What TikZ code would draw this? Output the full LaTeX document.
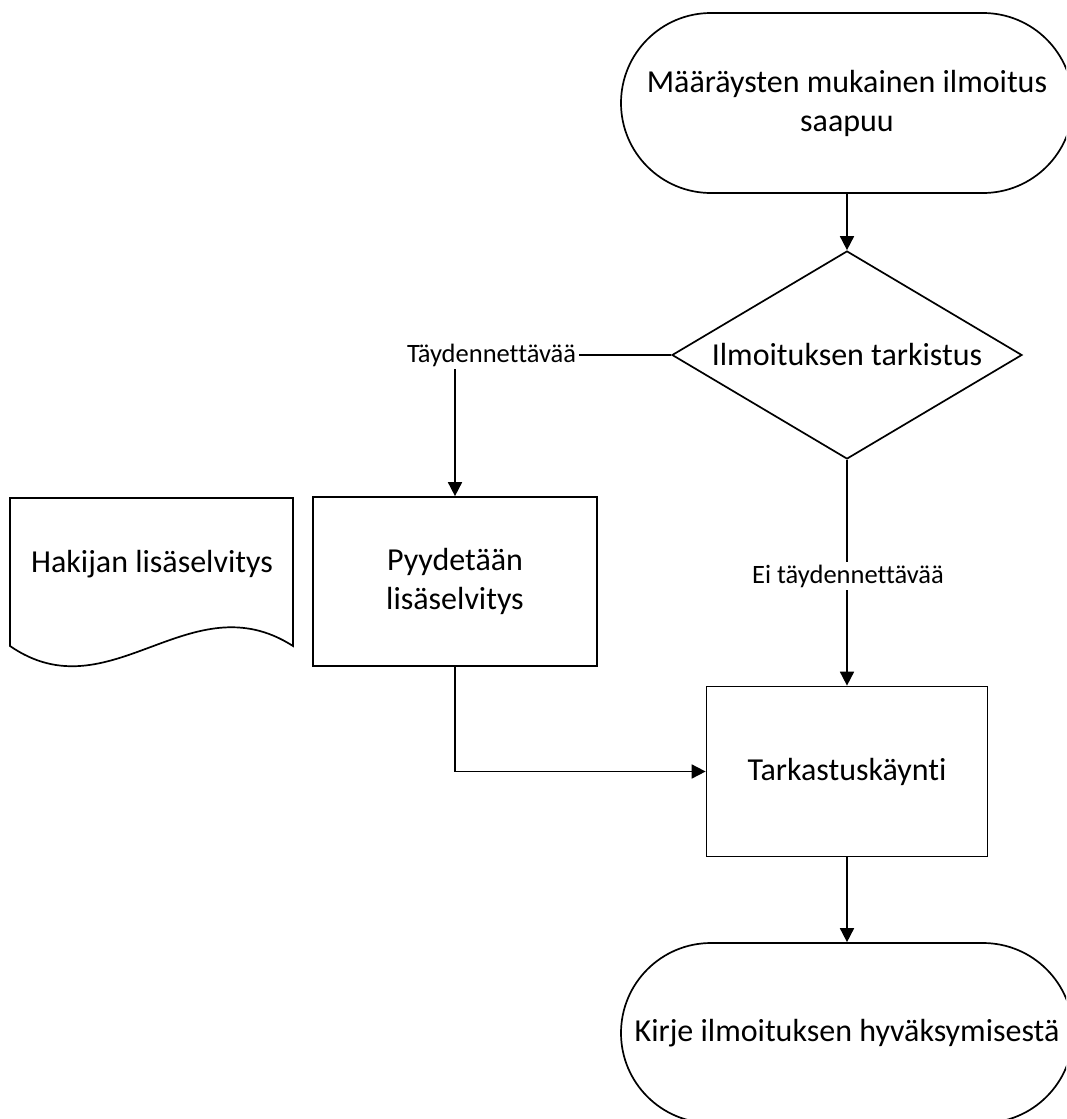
\documentclass[tikz,border=0pt]{standalone}
\usepackage{fontspec}
\setmainfont{Carlito}[Ligatures=NoCommon]
\usetikzlibrary{shapes.geometric,arrows.meta}
\newcommand{\mainfs}{\fontsize{32}{39}\selectfont}
\newcommand{\labfs}{\fontsize{26.5}{31}\selectfont}
\begin{document}
\begin{tikzpicture}[x=1pt,y=-1pt, line width=1.7pt,
  box/.style={draw, minimum width=284pt, minimum height=169pt, inner sep=0pt, align=center, font=\mainfs},
  term/.style={draw, rounded corners=90pt, minimum width=452pt, minimum height=180pt, inner sep=0pt, align=center, font=\mainfs},
  decision/.style={draw, diamond, minimum width=350pt, minimum height=208pt, inner sep=0pt, aspect=1.68, font=\mainfs},
  lab/.style={inner sep=2pt, font=\labfs},
  doctext/.style={inner sep=0pt, font=\mainfs},
  arr/.style={-{Triangle[length=14pt,width=14pt]}}]
\clip (0,0) rectangle (1066,1119);
\fill[white] (0,0) rectangle (1066,1119);
\node[term] (start) at (847,103) {Määräysten mukainen ilmoitus\\saapuu};
\node[decision] (dia) at (847,355) {Ilmoituksen tarkistus};
\node[lab] (lab1) at (491.5,355) {Täydennettävää};
\node[box] (pyy) at (455,581.5) {Pyydetään\\lisäselvitys};
\draw (10,498) -- (293,498) -- (293,646) .. controls (190,580) and (110,715) .. (10,646) -- cycle;
\node[doctext] (doc) at (152,564) {Hakijan lisäselvitys};
\node[lab] (lab2) at (848,576) {Ei täydennettävää};
\node[box, minimum width=281pt, minimum height=170pt] (tark) at (847,771.5) {Tarkastuskäynti};
\node[term] (end) at (847,1033) {Kirje ilmoituksen hyväksymisestä};
\draw[arr] (start.south) -- (dia.north);
\draw (dia.west) -- (lab1.east);
\draw[arr] (lab1.south -| pyy.north) -- (pyy.north);
\draw (dia.south) -- (lab2.north -| dia.south);
\draw[arr] (lab2.south -| tark.north) -- (tark.north);
\draw[arr] (pyy.south) |- (tark.west);
\draw[arr] (tark.south) -- (end.north);
\end{tikzpicture}
\end{document}
